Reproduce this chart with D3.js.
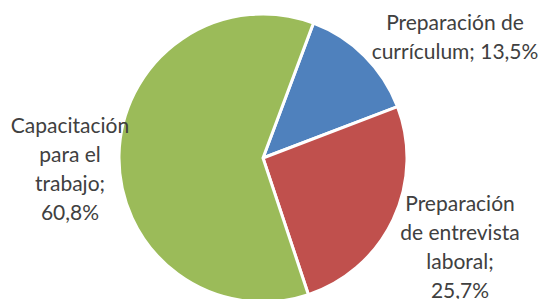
<!DOCTYPE html>
<html>
<head>
<meta charset="utf-8">
<script src="https://cdn.jsdelivr.net/npm/d3@7"></script>
<style>
  html, body { margin: 0; padding: 0; background: #fff; }
  svg { display: block; }
</style>
</head>
<body>
<div id="chart"></div>
<script>
// data
const categories = ['Preparación de currículum', 'Preparación de entrevista laboral', 'Capacitación para el trabajo'];
const values = [13.5, 25.7, 60.8];
const labelLines = [
  ['Preparación de', 'currículum; 13,5%'],
  ['Preparación', 'de entrevista', 'laboral;', '25,7%'],
  ['Capacitación', 'para el', 'trabajo;', '60,8%']
];
const colors = ['#4F81BD', '#C0504D', '#9BBB59'];

const width = 542;
const height = 299;
const cx = 263, cy = 158, radius = 144;

// where each label block sits (center x, first baseline y)
const labelPos = [[455, 30], [460, 211], [70, 133]];
const lineHeight = 29;

const svg = d3.select('#chart')
  .append('svg')
  .attr('width', width)
  .attr('height', height);

const pie = d3.pie()
  .sort(null)
  .value(d => d)
  .startAngle(20.5 * Math.PI / 180)
  .endAngle(20.5 * Math.PI / 180 + 2 * Math.PI);

const arc = d3.arc().innerRadius(0).outerRadius(radius);

const g = svg.append('g').attr('transform', `translate(${cx},${cy})`);

g.selectAll('path')
  .data(pie(values))
  .enter()
  .append('path')
  .attr('d', arc)
  .attr('fill', (d, i) => colors[i])
  .attr('stroke', '#fff')
  .attr('stroke-width', 3)
  .attr('stroke-linejoin', 'miter');

// labels
const labels = svg.selectAll('.lbl')
  .data(categories)
  .enter()
  .append('text')
  .attr('class', 'lbl')
  .attr('text-anchor', 'middle')
  .style('font-family', 'Lato, "Open Sans", sans-serif')
  .style('font-size', '21px')
  .attr('fill', '#404040');

labels.each(function(d, i) {
  const t = d3.select(this);
  labelLines[i].forEach((line, j) => {
    t.append('tspan')
      .attr('x', labelPos[i][0])
      .attr('y', labelPos[i][1] + j * lineHeight)
      .text(line);
  });
});
</script>
</body>
</html>
